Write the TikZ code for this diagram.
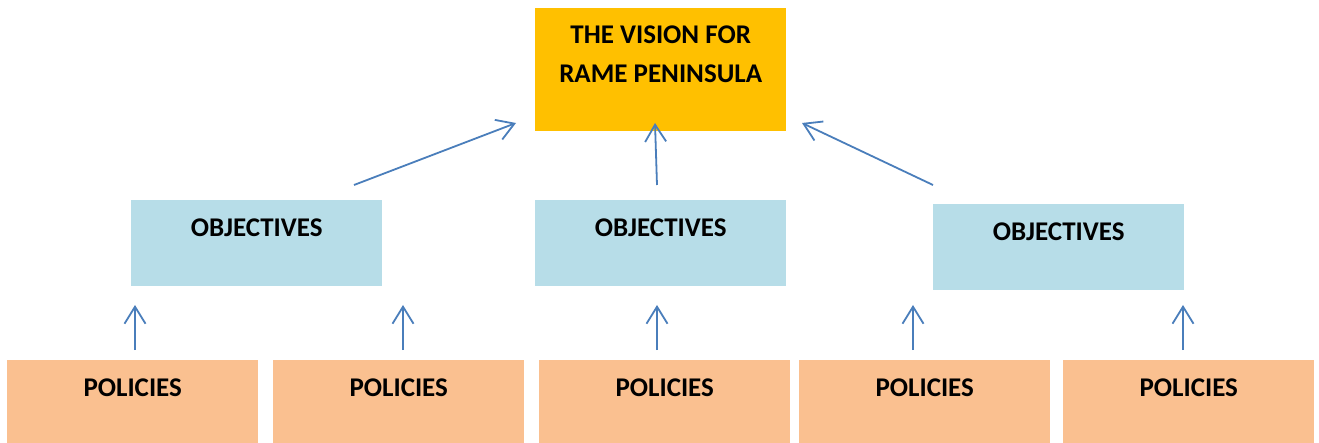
\documentclass[tikz,border=0pt]{standalone}
\usepackage{fontspec}
\setmainfont{Carlito}
\usetikzlibrary{arrows.meta}
\definecolor{visioncol}{HTML}{FFC000}
\definecolor{objcol}{HTML}{B7DDE8}
\definecolor{polcol}{HTML}{FAC090}
\definecolor{arrcol}{HTML}{4A7EBB}
\tikzset{
  box/.style={rectangle, inner sep=0pt, minimum width=251pt, anchor=north west,
    font=\fontsize{27}{32}\selectfont\bfseries, text=black},
  visionbox/.style={box, fill=visioncol, text height=35pt, text depth=88pt},
  objbox/.style={box, fill=objcol, text height=36pt, text depth=50pt},
  polbox/.style={box, fill=polcol, text height=36pt, text depth=47pt},
  conn/.style={draw=arrcol, line width=1.8pt, -{Straight Barb[length=17pt,width=21pt,line width=1.8pt]}}
}
\begin{document}
\begin{tikzpicture}[x=1pt,y=-1pt]
\useasboundingbox (0,0) rectangle (1319,443);
% vision
\node[visionbox] (vision) at (535,8) {\begin{tabular}[t]{@{}c@{}}THE VISION FOR\\[7pt]RAME PENINSULA\end{tabular}};
% objectives
\node[objbox] (o1) at (131,200) {OBJECTIVES};
\node[objbox] (o2) at (535,200) {OBJECTIVES};
\node[objbox] (o3) at (933,204) {OBJECTIVES};
% policies
\node[polbox] (p1) at (7,360) {POLICIES};
\node[polbox] (p2) at (273,360) {POLICIES};
\node[polbox] (p3) at (539,360) {POLICIES};
\node[polbox] (p4) at (799,360) {POLICIES};
\node[polbox] (p5) at (1063,360) {POLICIES};
% connector end points
\coordinate (a1) at (354,185); \coordinate (b1) at (516,123);
\coordinate (a2) at (657,185); \coordinate (b2) at (655,123);
\coordinate (a3) at (933,185); \coordinate (b3) at (802,123);
\coordinate (c1) at (135,350); \coordinate (d1) at (135,305);
\coordinate (c2) at (403,350); \coordinate (d2) at (403,305);
\coordinate (c3) at (657,350); \coordinate (d3) at (657,305);
\coordinate (c4) at (913,350); \coordinate (d4) at (913,305);
\coordinate (c5) at (1183,350); \coordinate (d5) at (1183,305);
\draw[conn] (a1) -- (b1);
\draw[conn] (a2) -- (b2);
\draw[conn] (a3) -- (b3);
\foreach \i in {1,...,5} {\draw[conn] (c\i) -- (d\i);}
\end{tikzpicture}
\end{document}
